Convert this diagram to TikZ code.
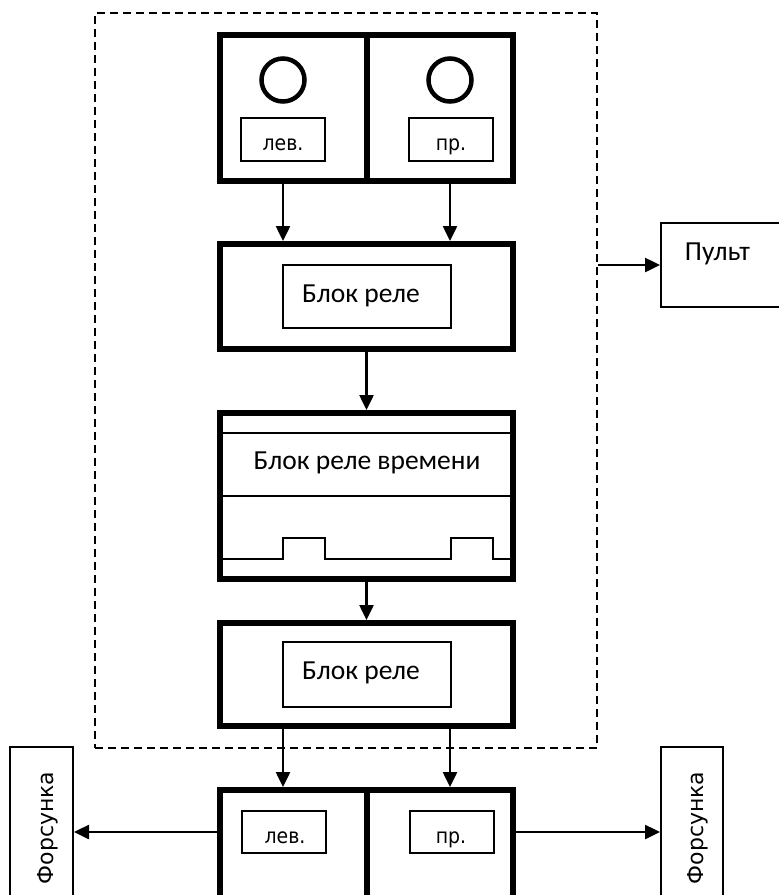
\documentclass[tikz,border=0pt]{standalone}
\usepackage{fontspec}
\usetikzlibrary{arrows.meta}
\newfontfamily\calib{Carlito}
\newfontfamily\dvs{DejaVu Sans}
\newfontfamily\dvsc{DejaVu Sans Condensed}
\begin{document}
\begin{tikzpicture}[x=1pt,y=-1pt,
  heavy/.style={draw, line width=6pt, inner sep=0pt, rectangle},
  thinbox/.style={draw, line width=2pt, inner sep=0pt, rectangle},
  dashbox/.style={draw, line width=1.8pt, dash pattern=on 8pt off 5pt, inner sep=0pt, rectangle},
  ring/.style={draw, circle, line width=4.5pt, inner sep=0pt, minimum size=43pt},
  bigtxt/.style={font=\calib\fontsize{27.5}{32}\selectfont, inner sep=0pt, anchor=base},
  smtxt/.style={font=\dvsc\fontsize{21}{25}\selectfont, inner sep=0pt, anchor=base},
  vtxt/.style={font=\dvs\fontsize{22}{26}\selectfont, inner sep=0pt, rotate=90},
  arr/.style={-{Triangle[length=15pt,width=14pt]}, line width=2.5pt},
  sep/.style={line width=2pt}
]
\useasboundingbox (0,0) rectangle (779,895);

% dashed control frame
\node[dashbox, minimum width=502pt, minimum height=735pt] (ctrl) at (346,380.5) {};

% top sensor block
\node[heavy, minimum width=147pt, minimum height=146pt] (topL) at (293.5,108) {};
\node[heavy, minimum width=146pt, minimum height=146pt] (topR) at (440,108) {};
\node[ring] (cL) at (283,80) {};
\node[ring] (cR) at (450,80) {};
\node[thinbox, minimum width=84pt, minimum height=43pt] (levT) at (283,139.5) {};
\node[thinbox, minimum width=84pt, minimum height=43pt] (prT) at (451,139.5) {};
\node[smtxt] (levTt) at (283,150) {лев.};
\node[smtxt] (prTt) at (451,150) {пр.};

% relay block 1
\node[heavy, minimum width=293pt, minimum height=105pt] (relay1) at (366.5,296.5) {};
\node[thinbox, minimum width=168pt, minimum height=63pt] (rb1) at (367,296.5) {};
\node[bigtxt] (rb1t) at (361,302) {Блок реле};

% time relay block
\node[heavy, minimum width=293pt, minimum height=166pt] (timer) at (366.5,496) {};
\draw[sep] (220,433) -- (513,433);
\draw[sep] (220,496) -- (513,496);
\draw[sep] (220,559) -- (283,559) -- (283,538) -- (325,538) -- (325,559)
  -- (451,559) -- (451,538) -- (493,538) -- (493,559) -- (513,559);
\node[bigtxt] (timert) at (367,469) {Блок реле времени};

% relay block 2
\node[heavy, minimum width=293pt, minimum height=103pt] (relay2) at (366.5,674.5) {};
\node[thinbox, minimum width=168pt, minimum height=65pt] (rb2) at (367,674.5) {};
\node[bigtxt] (rb2t) at (361,679) {Блок реле};

% bottom output block
\node[heavy, minimum width=147pt, minimum height=110pt] (botL) at (293.5,845) {};
\node[heavy, minimum width=146pt, minimum height=110pt] (botR) at (440,845) {};
\node[thinbox, minimum width=84pt, minimum height=42pt] (levB) at (284,832) {};
\node[thinbox, minimum width=84pt, minimum height=42pt] (prB) at (452,832) {};
\node[smtxt] (levBt) at (285,843) {лев.};
\node[smtxt] (prBt) at (451,843) {пр.};

% injectors
\node[thinbox, minimum width=63pt, minimum height=153pt] (fL) at (41.5,823.5) {};
\node[thinbox, minimum width=62pt, minimum height=153pt] (fR) at (692,823.5) {};
\node[vtxt] (fLt) at (47.5,828) {Форсунка};
\node[vtxt] (fRt) at (697.5,828) {Форсунка};

% console
\node[thinbox, minimum width=129pt, minimum height=84pt] (pult) at (725.5,265) {};
\node[bigtxt] (pultt) at (717.5,260) {Пульт};

% connectors
\draw[arr] (topL.south -| levT) -- (relay1.north -| levT);
\draw[arr] (topR.south -| cR) -- (relay1.north -| cR);
\draw[arr] (relay1.south) -- (timer.north);
\draw[arr] (timer.south) -- (relay2.north);
\draw[arr] (relay2.south -| levT) -- (botL.north -| levT);
\draw[arr] (relay2.south -| cR) -- (botR.north -| cR);
\draw[arr] (botL.west |- levB) -- (fL.east |- levB);
\draw[arr] (botR.east |- prB) -- (fR.west |- prB);
\draw[arr] (ctrl.east |- pult) -- (pult.west);
\end{tikzpicture}
\end{document}
